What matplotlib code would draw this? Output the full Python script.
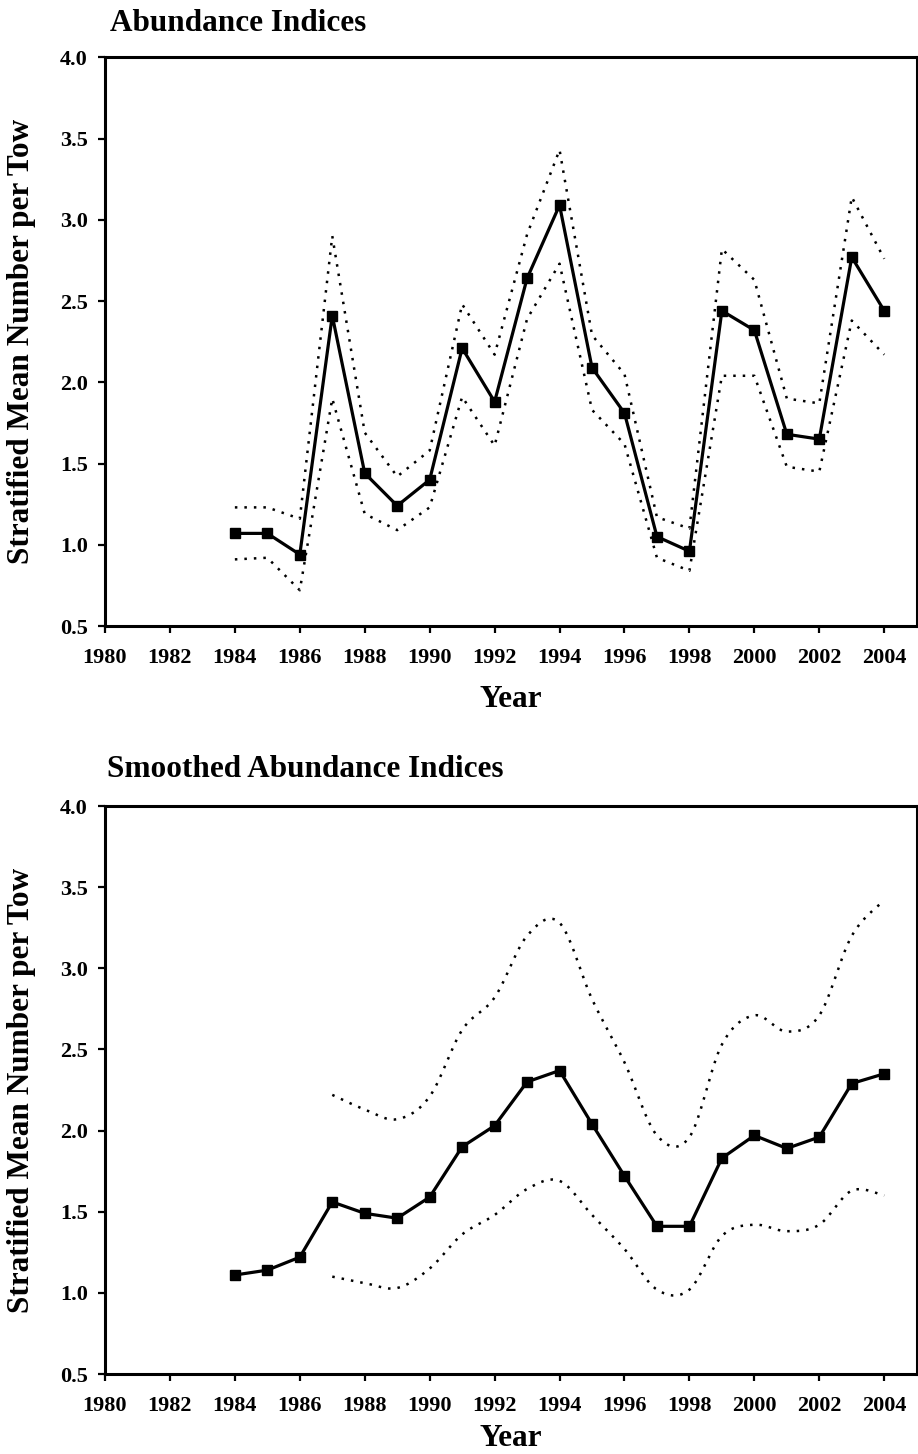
import numpy as np
import matplotlib
matplotlib.use("Agg")
import matplotlib.pyplot as plt

plt.rcParams['font.family'] = ['Liberation Serif', 'DejaVu Serif']
plt.rcParams['font.weight'] = 'bold'

# ---------------- data ----------------
years = list(range(1984, 2005))

abund_mean = [1.07, 1.07, 0.94, 2.41, 1.44, 1.24, 1.40, 2.21, 1.88, 2.64, 3.09,
              2.09, 1.81, 1.05, 0.96, 2.44, 2.32, 1.68, 1.65, 2.77, 2.44]
abund_upper = [1.23, 1.23, 1.16, 2.90, 1.69, 1.42, 1.58, 2.48, 2.17, 2.91, 3.43,
               2.29, 2.05, 1.17, 1.10, 2.82, 2.63, 1.90, 1.87, 3.14, 2.76]
abund_lower = [0.91, 0.92, 0.72, 1.90, 1.19, 1.09, 1.23, 1.91, 1.61, 2.39, 2.73,
               1.83, 1.62, 0.92, 0.84, 2.04, 2.04, 1.48, 1.45, 2.38, 2.17]

smooth_mean = [1.11, 1.14, 1.22, 1.56, 1.49, 1.46, 1.59, 1.90, 2.03, 2.30, 2.37,
               2.04, 1.72, 1.41, 1.41, 1.83, 1.97, 1.89, 1.96, 2.29, 2.35]
ci_years = list(range(1987, 2005))
smooth_upper = [2.22, 2.13, 2.07, 2.21, 2.62, 2.82, 3.20, 3.28, 2.81, 2.42,
                1.97, 1.96, 2.53, 2.71, 2.61, 2.71, 3.20, 3.42]
smooth_lower = [1.10, 1.06, 1.03, 1.15, 1.36, 1.48, 1.64, 1.69, 1.48, 1.27,
                1.02, 1.02, 1.35, 1.42, 1.38, 1.42, 1.63, 1.60]

titles = ["Abundance Indices", "Smoothed Abundance Indices"]
xlabel = "Year"
ylabel = "Stratified Mean Number per Tow"
xticks = list(range(1980, 2005, 2))
yticks = [0.5, 1.0, 1.5, 2.0, 2.5, 3.0, 3.5, 4.0]


def smooth_curve(x, y, n=24):
    """Excel-style smoothed line (Catmull-Rom Bezier) through the points."""
    x = np.asarray(x, float)
    y = np.asarray(y, float)
    P = np.column_stack([x, y])
    Pp = np.vstack([P[0], P, P[-1]])
    out = []
    t = np.linspace(0, 1, n)[:, None]
    for i in range(len(P) - 1):
        p0, p1, p2, p3 = Pp[i], Pp[i + 1], Pp[i + 2], Pp[i + 3]
        c1 = p1 + (p2 - p0) / 6.0
        c2 = p2 - (p3 - p1) / 6.0
        seg = ((1 - t) ** 3) * p1 + 3 * ((1 - t) ** 2) * t * c1 + 3 * (1 - t) * t ** 2 * c2 + t ** 3 * p2
        out.append(seg if i == 0 else seg[1:])
    out = np.vstack(out)
    return out[:, 0], out[:, 1]


W, H = 918, 1454
fig = plt.figure(figsize=(W / 100, H / 100), dpi=100)

left = 105 / W
width = (916.7 - 105) / W
axes_specs = [
    (1 - 626 / H, (626 - 57.3) / H),
    (1 - 1374 / H, (1374 - 806) / H),
]

series = [
    (years, abund_mean, years, abund_upper, abund_lower, False),
    (years, smooth_mean, ci_years, smooth_upper, smooth_lower, True),
]

title_pos = [(110, 31), (107, 777)]
xlabel_pos = [707, 1446]

for k, (bottom, height) in enumerate(axes_specs):
    ax = fig.add_axes([left, bottom, width, height])
    xm, ym, xc, yu, yl, smooth = series[k]

    for yy in (yu, yl):
        if smooth:
            sx, sy = smooth_curve(xc, yy)
        else:
            sx, sy = xc, yy
        ax.plot(sx, sy, color='black', lw=1.8, linestyle=(0, (1, 2.8)), zorder=2)

    ax.plot(xm, ym, color='black', lw=2.3, marker='s', markersize=7.5,
            markerfacecolor='black', markeredgecolor='black', zorder=3)

    ax.set_xlim(1980, 2005)
    ax.set_ylim(0.5, 4.0)
    ax.set_xticks(xticks)
    ax.set_xticklabels([str(v) for v in xticks])
    ax.set_yticks(yticks)
    ax.set_yticklabels([f"{v:.1f}" for v in yticks])
    ax.tick_params(axis='y', direction='out', length=5, width=1.6,
                   labelsize=16, pad=7.5)
    ax.tick_params(axis='x', direction='out', length=5, width=1.6,
                   labelsize=16, pad=10.5)
    for lab in ax.get_xticklabels() + ax.get_yticklabels():
        lab.set_fontweight('bold')
    for sp in ax.spines.values():
        sp.set_linewidth(2.2)

    tx, ty = title_pos[k]
    fig.text(tx / W, 1 - ty / H, titles[k], ha='left', va='baseline',
             fontsize=22.5, fontweight='bold')
    fig.text((105 + 916.7) / 2 / W, 1 - xlabel_pos[k] / H, xlabel,
             ha='center', va='baseline', fontsize=22.5, fontweight='bold')
    fig.text(22 / W, bottom + height / 2, ylabel, rotation=90,
             ha='center', va='center', fontsize=22.5, fontweight='bold')

fig.savefig("out.png", dpi=100)
